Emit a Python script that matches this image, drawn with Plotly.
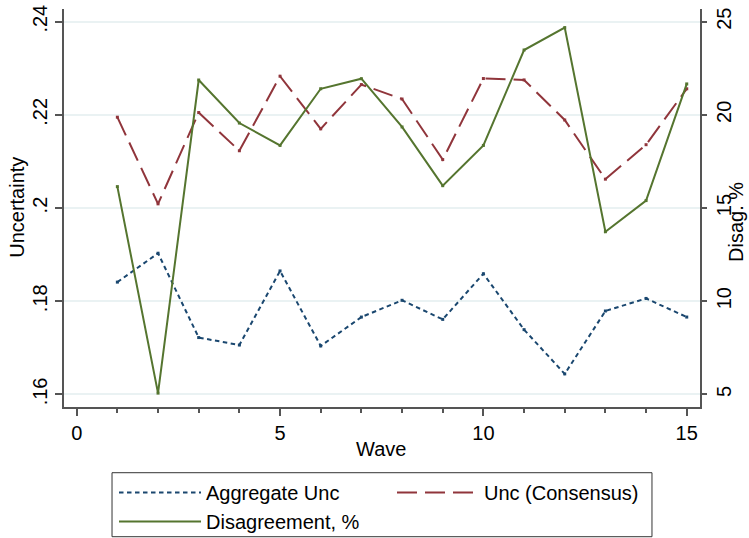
import plotly.graph_objects as go

waves = list(range(1, 16))
aggregate_unc = [0.1841, 0.1903, 0.1722, 0.1706, 0.1865, 0.1704, 0.1766, 0.1802,
                 0.1761, 0.1859, 0.1739, 0.1644, 0.1779, 0.1806, 0.1766]
unc_consensus = [0.2195, 0.2009, 0.2205, 0.2123, 0.2283, 0.2170, 0.2265, 0.2234,
                 0.2104, 0.2278, 0.2275, 0.2189, 0.2062, 0.2136, 0.2256]
disagreement = [16.15, 5.07, 21.87, 19.56, 18.36, 21.4, 21.94, 19.35,
                16.2, 18.36, 23.48, 24.68, 13.73, 15.4, 21.66]

left_ticks = [0.16, 0.18, 0.20, 0.22, 0.24]
left_ticktext = [".16", ".18", ".2", ".22", ".24"]
right_ticks = [5, 10, 15, 20, 25]
x_ticks = [0, 5, 10, 15]

NAVY = "#1a476f"
MAROON = "#90353b"
GREEN = "#55752f"
AXIS = "#555555"
GRID = "#eaf2f3"
FONT = "Liberation Sans, Arial, sans-serif"

fig = go.Figure()
fig.add_trace(go.Scatter(x=waves, y=aggregate_unc, mode="lines", name="Aggregate Unc",
                         line=dict(color=NAVY, width=2, dash="4.5px,3.5px")))
fig.add_trace(go.Scatter(x=waves, y=unc_consensus, mode="lines", name="Unc (Consensus)",
                         line=dict(color=MAROON, width=2, dash="20px,8px")))
fig.add_trace(go.Scatter(x=waves, y=disagreement, mode="lines", name="Disagreement, %",
                         yaxis="y2", line=dict(color=GREEN, width=2)))
# small vertex markers
fig.add_trace(go.Scatter(x=waves, y=aggregate_unc, mode="markers", showlegend=False,
                         marker=dict(color=NAVY, size=3, symbol="square"), hoverinfo="skip"))
fig.add_trace(go.Scatter(x=waves, y=unc_consensus, mode="markers", showlegend=False,
                         marker=dict(color=MAROON, size=3, symbol="square"), hoverinfo="skip"))
fig.add_trace(go.Scatter(x=waves, y=disagreement, mode="markers", showlegend=False, yaxis="y2",
                         marker=dict(color=GREEN, size=3, symbol="square"), hoverinfo="skip"))

fig.update_layout(
    width=749, height=538,
    margin=dict(l=64, r=49, t=9, b=131),
    paper_bgcolor="white", plot_bgcolor="white",
    font=dict(family=FONT, size=20, color="black"),
    xaxis=dict(range=[-0.312, 15.326], tickvals=x_ticks, showgrid=False, zeroline=False,
               showline=True, linecolor=AXIS, linewidth=1.5, ticks="outside", ticklen=7,
               tickcolor=AXIS, tickwidth=1.5,
               minor=dict(dtick=1, tick0=0, ticks="outside", ticklen=4, tickcolor=AXIS, tickwidth=1.5),
               automargin=False, mirror=False),
    yaxis=dict(range=[0.157295, 0.242726], tickvals=left_ticks, ticktext=left_ticktext,
               tickangle=-90, showgrid=True, gridcolor=GRID, gridwidth=1.5, zeroline=False,
               showline=True, linecolor=AXIS, linewidth=1.5, ticks="outside", ticklen=7,
               tickcolor=AXIS, tickwidth=1.5, automargin=False),
    yaxis2=dict(range=[4.324, 25.68], tickvals=right_ticks, overlaying="y", side="right",
                tickangle=-90, showgrid=False, zeroline=False, showline=True, linecolor=AXIS,
                linewidth=1.5, ticks="outside", ticklen=5, tickcolor=AXIS, tickwidth=1.5,
                automargin=False),
    legend=dict(orientation="h", xref="container", yref="container",
                x=114 / 749, y=1 - 473 / 538, xanchor="left", yanchor="top",
                borderwidth=0, bgcolor="rgba(0,0,0,0)",
                itemwidth=82, entrywidth=181, traceorder="normal",
                font=dict(family=FONT, size=20, color="black")),
    showlegend=True,
    annotations=[
        dict(text="Wave", xref="paper", yref="paper", x=0.4984, y=-0.1048,
             xanchor="center", yanchor="middle", showarrow=False,
             font=dict(family=FONT, size=20, color="black")),
        dict(text="Uncertainty", xref="paper", yref="paper", x=-0.0739, y=0.503,
             xanchor="center", yanchor="middle", textangle=-90, showarrow=False,
             font=dict(family=FONT, size=20, color="black")),
        dict(text="Disag. %", xref="paper", yref="paper", x=(748.5 - 64) / 636, y=0.4636,
             xanchor="right", yanchor="middle", textangle=-90, showarrow=False,
             borderpad=0, font=dict(family=FONT, size=20, color="black")),
    ],
    shapes=[
        dict(type="rect", xref="paper", yref="paper", x0=0.0755, x1=0.9245,
             y0=-0.3259, y1=-0.1651, line=dict(color="#333333", width=1),
             fillcolor="rgba(0,0,0,0)", layer="above"),
    ],
)

fig.write_html("out.html")
